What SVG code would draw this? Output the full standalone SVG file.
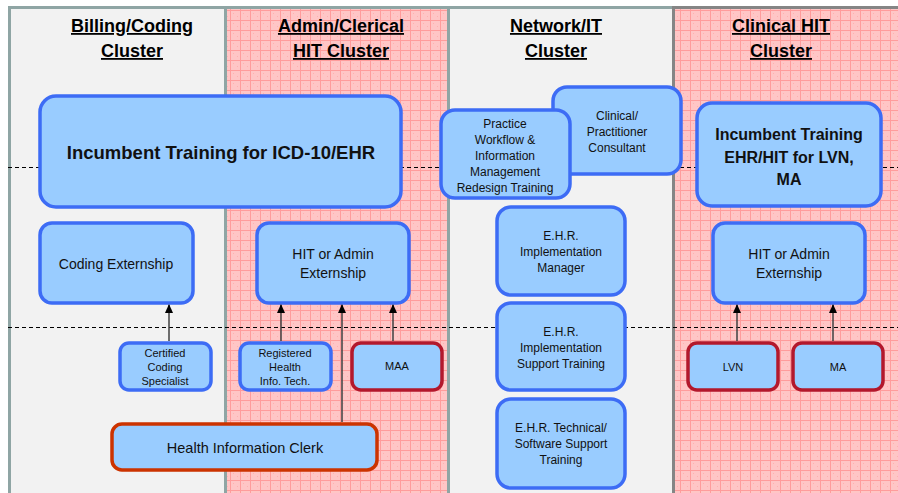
<svg xmlns="http://www.w3.org/2000/svg" width="898" height="493" viewBox="0 0 898 493">
<defs>
<pattern id="grid" x="0" y="0" width="10" height="10" patternUnits="userSpaceOnUse">
<rect width="10" height="10" fill="#ffc6c6"/>
<rect x="3" y="3" width="1" height="1" fill="#ffb0b0"/>
<rect x="7" y="6" width="1" height="1" fill="#ffb0b0"/>
<path d="M0 0.5H10M0.5 0V10" stroke="#ff9c9c" stroke-width="1"/>
</pattern>
<marker id="ah" markerWidth="9" markerHeight="8" refX="8" refY="4" orient="auto" markerUnits="userSpaceOnUse" viewBox="0 0 9 8">
<path d="M0 0L9 4L0 8Z" fill="#000"/>
</marker>
<style>
.hdr{font-family:"Liberation Sans",Arial,sans-serif;font-weight:bold;font-size:18px;text-anchor:middle;text-decoration:underline;fill:#000}
.b{fill:#99ccff;stroke:#3d6cf5;stroke-width:3.5}
.r{fill:#99ccff;stroke:#b3182c;stroke-width:3.5}
.o{fill:#99ccff;stroke:#cc3300;stroke-width:3.5}
.t{font-family:"Liberation Sans",Arial,sans-serif;text-anchor:middle;fill:#111}
.big{font-size:18.5px;font-weight:bold}
.bold16{font-size:16px;font-weight:bold}
.m{font-size:14px}
.s{font-size:12px}
.xs{font-size:11px}
.conn{stroke:#404040;stroke-width:1.5;fill:none;marker-end:url(#ah)}
.dash{stroke:#000;stroke-width:1;stroke-dasharray:4 3}
</style>
</defs>
<rect width="898" height="493" fill="#fff"/>
<!-- columns -->
<rect x="9" y="7" width="216" height="486" fill="#f2f2f2"/>
<rect x="225" y="7" width="223" height="486" fill="url(#grid)"/>
<rect x="448" y="7" width="225" height="486" fill="#f2f2f2"/>
<rect x="673" y="7" width="225" height="486" fill="url(#grid)"/>
<path d="M8 7.5H673" stroke="#8fa5a4" stroke-width="3"/>
<path d="M673 7.5H898" stroke="#858585" stroke-width="3"/>
<path d="M9.5 6V493M225.5 6V493M448.5 6V493" stroke="#8fa5a4" stroke-width="3"/>
<path d="M673.5 6V493" stroke="#858585" stroke-width="3"/>
<!-- headers -->
<text class="hdr" x="132" y="32">Billing/Coding</text>
<text class="hdr" x="132" y="57">Cluster</text>
<text class="hdr" x="341" y="32">Admin/Clerical</text>
<text class="hdr" x="341" y="57">HIT Cluster</text>
<text class="hdr" x="556" y="32">Network/IT</text>
<text class="hdr" x="556" y="57">Cluster</text>
<text class="hdr" x="781" y="32">Clinical HIT</text>
<text class="hdr" x="781" y="57">Cluster</text>
<!-- dashed lines -->
<path class="dash" d="M8 167.5H898M8 327.5H898"/>
<!-- nodes -->
<g id="incumbent-icd">
<rect class="b" x="40" y="96" width="361" height="111" rx="16"/>
<text class="t big" x="221" y="159">Incumbent Training for ICD-10/EHR</text>
</g>
<g id="coding-externship">
<rect class="b" x="40" y="223" width="153" height="80" rx="12"/>
<text class="t m" x="116" y="269">Coding Externship</text>
</g>
<g id="hit-admin-externship-1">
<rect class="b" x="257" y="223" width="152" height="80" rx="12"/>
<text class="t m" x="333" y="259">HIT or Admin</text>
<text class="t m" x="333" y="278">Externship</text>
</g>
<g id="ccs">
<rect class="b" x="120" y="343" width="91" height="47" rx="9"/>
<text class="t xs" x="165" y="357">Certified</text>
<text class="t xs" x="165" y="371">Coding</text>
<text class="t xs" x="165" y="385">Specialist</text>
</g>
<g id="rhit">
<rect class="b" x="240" y="343" width="91" height="47" rx="9"/>
<text class="t xs" x="285" y="357">Registered</text>
<text class="t xs" x="285" y="371">Health</text>
<text class="t xs" x="285" y="385">Info. Tech.</text>
</g>
<g id="maa">
<rect class="r" x="352" y="343" width="90" height="47" rx="9"/>
<text class="t xs" x="397" y="370">MAA</text>
</g>
<g id="hic">
<rect class="o" x="112" y="424" width="265" height="46" rx="10"/>
<text class="t" style="font-size:14.5px" x="245" y="453">Health Information Clerk</text>
</g>
<g id="clinical-consultant">
<rect class="b" x="553" y="87" width="128" height="87" rx="14"/>
<text class="t s" x="617" y="120">Clinical/</text>
<text class="t s" x="617" y="136">Practitioner</text>
<text class="t s" x="617" y="152">Consultant</text>
</g>
<g id="practice-workflow">
<rect class="b" x="441" y="110" width="129" height="88" rx="14"/>
<text class="t s" x="505" y="128">Practice</text>
<text class="t s" x="505" y="144">Workflow &amp;</text>
<text class="t s" x="505" y="160">Information</text>
<text class="t s" x="505" y="176">Management</text>
<text class="t s" x="505" y="192">Redesign Training</text>
</g>
<g id="ehr-manager">
<rect class="b" x="497" y="207" width="128" height="88" rx="14"/>
<text class="t s" x="561" y="240">E.H.R.</text>
<text class="t s" x="561" y="256">Implementation</text>
<text class="t s" x="561" y="272">Manager</text>
</g>
<g id="ehr-support">
<rect class="b" x="497" y="303" width="128" height="87" rx="14"/>
<text class="t s" x="561" y="336">E.H.R.</text>
<text class="t s" x="561" y="352">Implementation</text>
<text class="t s" x="561" y="368">Support Training</text>
</g>
<g id="ehr-technical">
<rect class="b" x="497" y="399" width="128" height="89" rx="14"/>
<text class="t s" x="561" y="432">E.H.R. Technical/</text>
<text class="t s" x="561" y="448">Software Support</text>
<text class="t s" x="561" y="464">Training</text>
</g>
<g id="incumbent-lvn">
<rect class="b" x="697" y="103" width="184" height="103" rx="15"/>
<text class="t bold16" x="789" y="140">Incumbent Training</text>
<text class="t bold16" x="789" y="163">EHR/HIT for LVN,</text>
<text class="t bold16" x="789" y="185">MA</text>
</g>
<g id="hit-admin-externship-2">
<rect class="b" x="713" y="223" width="152" height="80" rx="12"/>
<text class="t m" x="789" y="259">HIT or Admin</text>
<text class="t m" x="789" y="278">Externship</text>
</g>
<g id="lvn">
<rect class="r" x="688" y="343" width="90" height="47" rx="9"/>
<text class="t xs" x="733" y="371">LVN</text>
</g>
<g id="ma">
<rect class="r" x="793" y="343" width="90" height="47" rx="9"/>
<text class="t xs" x="838" y="371">MA</text>
</g>
<!-- connectors -->
<g id="connectors">
<path class="conn" d="M169 341V305"/>
<path class="conn" d="M281 341V305"/>
<path class="conn" d="M342 422V305"/>
<path class="conn" d="M393 341V305"/>
<path class="conn" d="M737 341V305"/>
<path class="conn" d="M833 341V305"/>
</g>
</svg>
